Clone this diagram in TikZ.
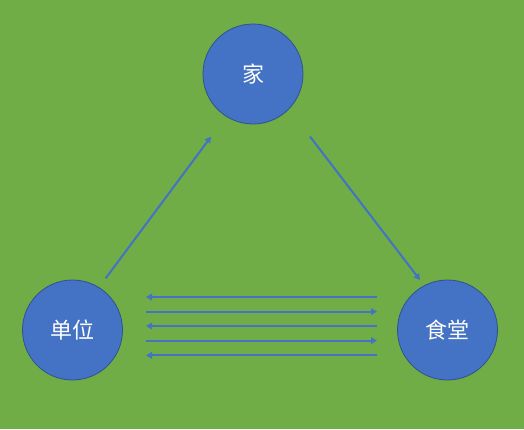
\documentclass[tikz,border=0pt]{standalone}
\usepackage{fontspec}
\newfontfamily\cjk{Noto Sans CJK SC}
\usetikzlibrary{arrows.meta}
\definecolor{bggreen}{HTML}{70AD47}
\definecolor{cblue}{HTML}{4472C4}
\definecolor{cborder}{HTML}{2F528F}
\tikzset{
  place/.style={circle, fill=cblue, draw=cborder, line width=0.8pt, minimum size=100pt, inner sep=0pt, text=white, font=\cjk\fontsize{22}{26}\selectfont},
  link/.style={draw=cblue, line width=2pt, -{Triangle[length=6pt,width=6.5pt]}}
}
\begin{document}
\begin{tikzpicture}[x=1pt,y=-1pt]
\fill[bggreen] (0,0) rectangle (524,429);
\useasboundingbox (0,0) rectangle (524,429);
\node[place] (home) at (253,74) {家};
\node[place] (work) at (72.5,330) {单位};
\node[place] (canteen) at (447.5,330) {食堂};
\coordinate (a1s) at (105.7,278.3);
\coordinate (a1e) at (211,136.7);
\coordinate (a2s) at (310,136.5);
\coordinate (a2e) at (420,280);
\draw[link] (a1s) -- (a1e);
\draw[link] (a2s) -- (a2e);
\coordinate (r1) at (377,297); \coordinate (l1) at (146,297);
\coordinate (l2) at (146,311.6); \coordinate (r2) at (377,311.6);
\coordinate (r3) at (377,326); \coordinate (l3) at (146,326);
\coordinate (l4) at (146,340.6); \coordinate (r4) at (377,340.6);
\coordinate (r5) at (377,355.4); \coordinate (l5) at (146,355.4);
\draw[link] (r1) -- (l1);
\draw[link] (l2) -- (r2);
\draw[link] (r3) -- (l3);
\draw[link] (l4) -- (r4);
\draw[link] (r5) -- (l5);
\end{tikzpicture}
\end{document}
